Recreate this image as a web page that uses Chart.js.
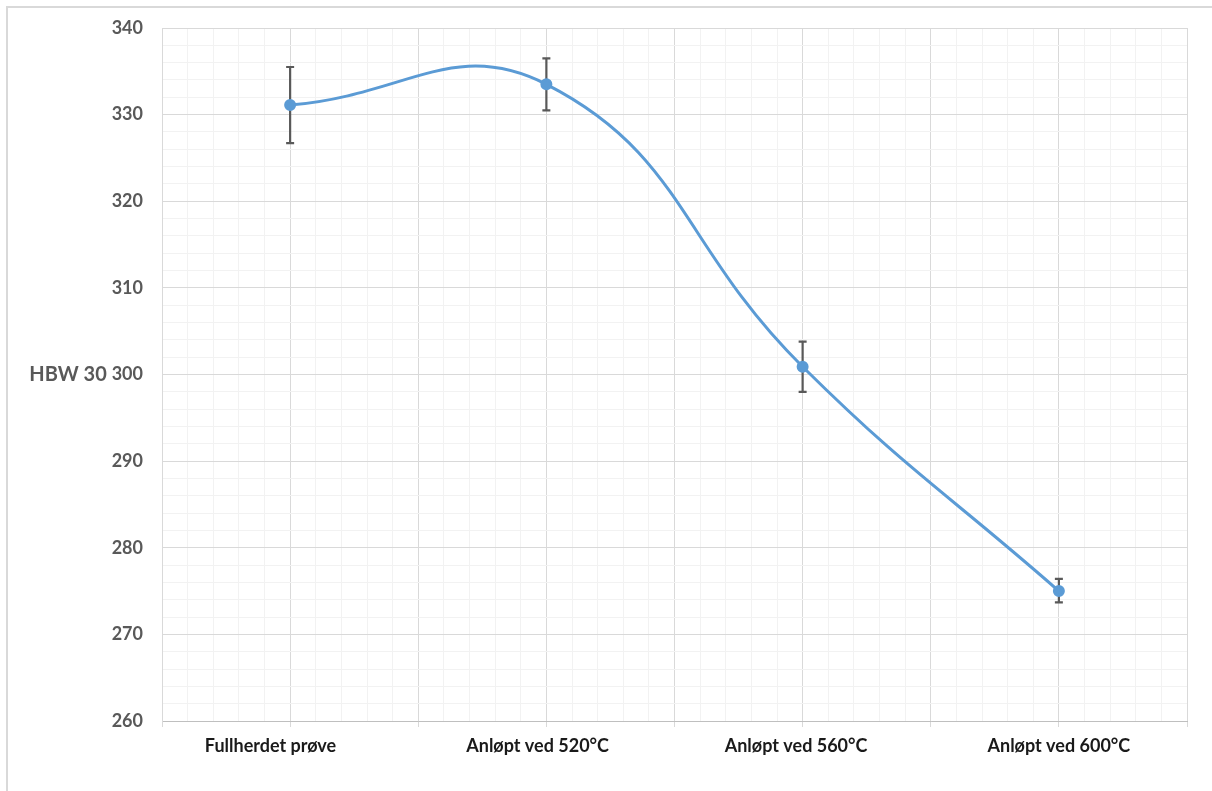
<!DOCTYPE html>
<html>
<head>
<meta charset="utf-8">
<script src="https://cdn.jsdelivr.net/npm/chart.js@4/dist/chart.umd.min.js"></script>
<style>
  html, body { margin: 0; padding: 0; background: #ffffff; }
  #wrap { width: 1212px; height: 791px; position: relative; }
</style>
</head>
<body>
<div id="wrap"><canvas id="c" width="1212" height="791"></canvas></div>
<script>
// Hardness per treatment (HBW 30) with standard deviation
const categories = ['Fullherdet prøve         ', 'Anløpt ved 520°C    ', 'Anløpt ved 560°C   ', 'Anløpt ved 600°C'];
const hardness = [331.1, 333.5, 300.9, 275.0];
const errorPlus = [4.4, 3.0, 2.9, 1.4];
const errorMinus = [4.4, 3.0, 2.9, 1.3];
const yTicks = [260, 270, 280, 290, 300, 310, 320, 330, 340];
const yTitle = 'HBW 30';

const FONT = 'Lato, "Open Sans", "DejaVu Sans", sans-serif';
const MAJOR = '#d9d9d9';
const MINOR = '#f2f2f2';

const points = hardness.map((v, i) => ({ x: i, y: v }));

// Error bars drawn under the curve, using the chart's own scales
const errorBars = {
  id: 'errorBars',
  beforeDatasetsDraw(chart) {
    const { ctx, scales: { x, y } } = chart;
    ctx.save();
    ctx.strokeStyle = '#595959';
    ctx.lineWidth = 2.2;
    hardness.forEach((v, i) => {
      const px = x.getPixelForValue(i);
      const top = y.getPixelForValue(v + errorPlus[i]);
      const bot = y.getPixelForValue(v - errorMinus[i]);
      ctx.beginPath();
      ctx.moveTo(px, top); ctx.lineTo(px, bot);
      ctx.moveTo(px - 4, top); ctx.lineTo(px + 4, top);
      ctx.moveTo(px - 4, bot); ctx.lineTo(px + 4, bot);
      ctx.stroke();
    });
    ctx.restore();
  }
};

// Outer frame (top and left edges) and the horizontal axis title
const decorations = {
  id: 'decorations',
  beforeDraw(chart) {
    const { ctx } = chart;
    ctx.save();
    ctx.strokeStyle = '#d9d9d9';
    ctx.lineWidth = 2;
    ctx.beginPath();
    ctx.moveTo(7, 791); ctx.lineTo(7, 7); ctx.lineTo(1212, 7);
    ctx.stroke();
    ctx.restore();
  },
  afterDraw(chart) {
    const { ctx, chartArea } = chart;
    ctx.save();
    ctx.fillStyle = '#595959';
    ctx.font = 'bold 20px ' + FONT;
    ctx.textAlign = 'center';
    ctx.textBaseline = 'middle';
    ctx.fillText(yTitle, 68, (chartArea.top + chartArea.bottom) / 2);
    ctx.restore();
  }
};

const isMultiple = (v, step) => Math.abs(Math.round(v / step) * step - v) < 1e-6;

new Chart(document.getElementById('c'), {
  type: 'line',
  data: {
    datasets: [{
      data: points,
      borderColor: '#5b9bd5',
      backgroundColor: '#5b9bd5',
      borderWidth: 3,
      pointRadius: 4.5,
      pointHoverRadius: 4.5,
      pointBackgroundColor: '#5b9bd5',
      pointBorderColor: '#5b9bd5',
      tension: 0.45,
      fill: false
    }]
  },
  options: {
    responsive: false,
    animation: false,
    events: [],
    layout: { padding: { top: 28, right: 25, left: 0, bottom: 0 } },
    plugins: { legend: { display: false }, tooltip: { enabled: false } },
    scales: {
      x: {
        type: 'linear',
        min: -0.5,
        max: categories.length - 0.5,
        afterBuildTicks(scale) {
          const t = [];
          for (let k = -5; k <= categories.length * 10 - 5; k++) t.push({ value: k / 10 });
          scale.ticks = t;
        },
        afterFit(scale) {
          scale.height = 70;
          scale.paddingLeft = 0;
          scale.paddingRight = 0;
        },
        ticks: {
          autoSkip: false,
          maxRotation: 0,
          padding: 8,
          color: '#1a1a1a',
          font: { family: FONT, size: 18, weight: 'bold' },
          callback(v) {
            return isMultiple(v, 1) ? categories[Math.round(v)] : '';
          }
        },
        grid: {
          drawTicks: true,
          tickLength: 6,
          lineWidth: 1,
          color(ctx) {
            return isMultiple(ctx.tick.value, 0.5) ? MAJOR : MINOR;
          },
          tickColor(ctx) {
            return isMultiple(ctx.tick.value, 0.5) ? MAJOR : 'rgba(0,0,0,0)';
          }
        },
        border: { display: true, color: '#bfbfbf', width: 1 }
      },
      y: {
        type: 'linear',
        min: yTicks[0],
        max: yTicks[yTicks.length - 1],
        afterBuildTicks(scale) {
          const t = [];
          for (let v = yTicks[0]; v <= yTicks[yTicks.length - 1]; v += 2) t.push({ value: v });
          scale.ticks = t;
        },
        afterFit(scale) {
          scale.width = 162;
          scale.paddingTop = 0;
          scale.paddingBottom = 0;
        },
        ticks: {
          autoSkip: false,
          padding: 19,
          color: '#595959',
          font: { family: FONT, size: 18, weight: 'bold' },
          callback(v) { return yTicks.includes(v) ? String(v) : ''; }
        },
        grid: {
          drawTicks: false,
          lineWidth: 1,
          color(ctx) { return isMultiple(ctx.tick.value, 10) ? MAJOR : MINOR; }
        },
        border: { display: true, color: MAJOR, width: 1 }
      }
    }
  },
  plugins: [errorBars, decorations]
});
</script>
</body>
</html>
